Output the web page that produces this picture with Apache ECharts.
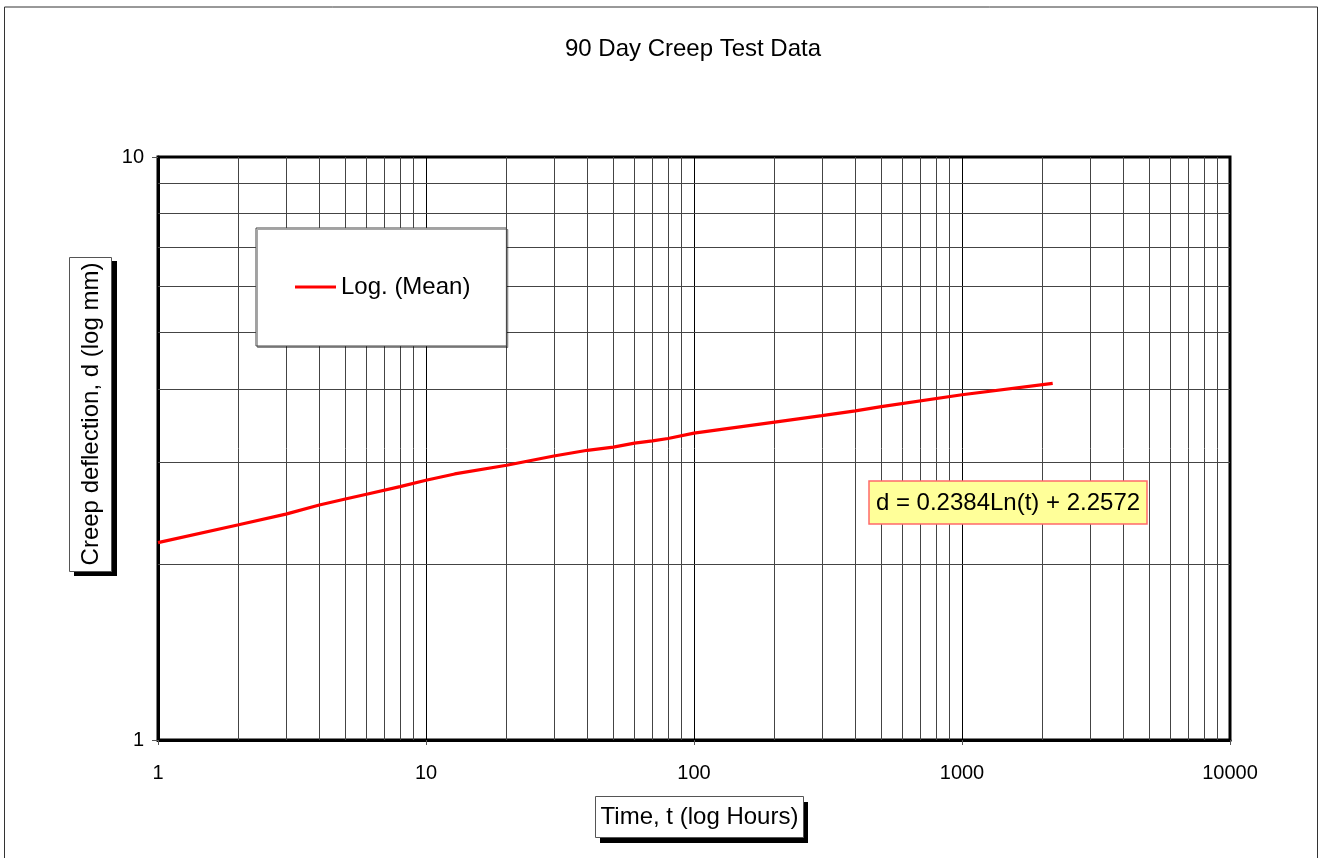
<!DOCTYPE html>
<html>
<head>
<meta charset="utf-8">
<script src="https://cdn.jsdelivr.net/npm/echarts@6/dist/echarts.min.js"></script>
<style>
html,body{margin:0;padding:0;background:#fff;}
#chart{width:1323px;height:858px;}
</style>
</head>
<body>
<div id="chart"></div>
<script>
// Time (hours) and mean creep deflection (mm)
var timeHours = [1, 2, 3, 4, 5, 6, 8, 10, 12.8, 20, 30, 40, 50, 60, 70, 80, 100, 200, 300, 400, 500, 1000, 2180];
var deflection = [2.18, 2.34, 2.44, 2.53, 2.59, 2.64, 2.72, 2.79, 2.86, 2.96, 3.07, 3.14, 3.18, 3.23, 3.26, 3.29, 3.36, 3.51, 3.60, 3.67, 3.73, 3.91, 4.09];
var minorXTicks = [2,3,4,5,6,7,8,9, 20,30,40,50,60,70,80,90, 200,300,400,500,600,700,800,900, 2000,3000,4000,5000,6000,7000,8000,9000];
var minorYTicks = [2,3,4,5,6,7,8,9];
var xTickLabels = ['1','10','100','1000','10000'];
var yTickLabels = ['1','10'];

var FONT = '"Liberation Sans", Arial, sans-serif';
var chart = echarts.init(document.getElementById('chart'));

var lineData = timeHours.map(function (t, i) { return [t, deflection[i]]; });

var option = {
  animation: false,
  backgroundColor: '#fff',
  textStyle: { fontFamily: FONT },
  grid: {
    left: 158, top: 157, width: 1072, height: 583,
    show: true, borderColor: '#000', borderWidth: 3
  },
  xAxis: {
    type: 'log', logBase: 10, min: 1, max: 10000,
    axisLine: { show: true, lineStyle: { color: '#000', width: 3 } },
    axisTick: { show: true, length: 5, lineStyle: { color: '#555', width: 1 } },
    axisLabel: {
      margin: 23, color: '#000', fontSize: 20, fontFamily: FONT,
      formatter: function (v) {
        var i = Math.round(Math.log10(v));
        return xTickLabels[i] !== undefined ? xTickLabels[i] : String(v);
      }
    },
    splitLine: { show: true, lineStyle: { color: '#000', width: 1 } },
    minorTick: { show: false }
  },
  yAxis: {
    type: 'log', logBase: 10, min: 1, max: 10,
    axisLine: { show: true, lineStyle: { color: '#000', width: 3 } },
    axisTick: { show: true, length: 6, lineStyle: { color: '#555', width: 1 } },
    axisLabel: {
      margin: 14, color: '#000', fontSize: 20, fontFamily: FONT,
      formatter: function (v) {
        var i = Math.round(Math.log10(v));
        return yTickLabels[i] !== undefined ? yTickLabels[i] : String(v);
      }
    },
    splitLine: { show: true, lineStyle: { color: '#000', width: 1 } }
  },
  legend: {
    show: true,
    z: 30,
    left: 256, top: 228,
    orient: 'horizontal',
    padding: [47, 36, 47, 39],
    icon: 'rect',
    itemWidth: 41, itemHeight: 3, itemGap: 5,
    itemStyle: { color: '#ff0000', borderWidth: 0 },
    backgroundColor: '#fff',
    borderColor: '#444', borderWidth: 1,
    shadowColor: 'rgba(0,0,0,0.35)', shadowBlur: 0, shadowOffsetX: 1.5, shadowOffsetY: 1.5,
    textStyle: { fontSize: 24, color: '#000', fontFamily: FONT },
    data: ['Log. (Mean)'],
    selectedMode: false
  },
  series: [
    {
      name: 'minor-grid',
      type: 'line',
      data: [],
      silent: true,
      z: 1,
      markLine: {
        silent: true,
        symbol: ['none', 'none'],
        label: { show: false },
        animation: false,
        lineStyle: { color: '#444', width: 1, type: 'solid' },
        emphasis: { disabled: true },
        data: minorXTicks.map(function (v) { return { xAxis: v }; })
          .concat(minorYTicks.map(function (v) { return { yAxis: v }; }))
      }
    },
    {
      name: 'Log. (Mean)',
      type: 'line',
      data: lineData,
      showSymbol: false,
      symbol: 'none',
      smooth: false,
      z: 5,
      lineStyle: { color: '#ff0000', width: 3.2 },
      itemStyle: { color: '#ff0000' }
    }
  ],
  graphic: [
    { type: 'rect', shape: { x: 4.5, y: 7, width: 1313, height: 870 },
      style: { fill: 'none', stroke: '#333', lineWidth: 1 }, silent: true, z: 0 },
    { type: 'text', x: 693, y: 49,
      style: { text: '90 Day Creep Test Data', font: '24px ' + FONT, fill: '#000', align: 'center', verticalAlign: 'middle' }, z: 10 },
    // Y axis title with shadow
    { type: 'rect', shape: { x: 74, y: 261, width: 43, height: 315 }, style: { fill: '#000' }, z: 9 },
    { type: 'rect', shape: { x: 69.5, y: 257.5, width: 42, height: 314 }, style: { fill: '#fff', stroke: '#555', lineWidth: 1 }, z: 10 },
    { type: 'text', x: 91, y: 414, rotation: Math.PI / 2,
      style: { text: 'Creep deflection, d (log mm)', font: '24px ' + FONT, fill: '#000', align: 'center', verticalAlign: 'middle' }, z: 11 },
    // X axis title with shadow
    { type: 'rect', shape: { x: 600, y: 802, width: 208, height: 41 }, style: { fill: '#000' }, z: 9 },
    { type: 'rect', shape: { x: 595.5, y: 796.5, width: 208, height: 41 }, style: { fill: '#fff', stroke: '#555', lineWidth: 1 }, z: 10 },
    { type: 'text', x: 699.5, y: 817,
      style: { text: 'Time, t (log Hours)', font: '24px ' + FONT, fill: '#000', align: 'center', verticalAlign: 'middle' }, z: 11 },
    // Trend equation label
    { type: 'rect', shape: { x: 869, y: 481, width: 278, height: 43 },
      style: { fill: '#ffff99', stroke: '#ff6a6a', lineWidth: 1.5 }, z: 10 },
    { type: 'text', x: 1008, y: 503,
      style: { text: 'd = 0.2384Ln(t) + 2.2572', font: '24px ' + FONT, fill: '#000', align: 'center', verticalAlign: 'middle' }, z: 11 }
  ]
};
chart.setOption(option);
</script>
</body>
</html>
